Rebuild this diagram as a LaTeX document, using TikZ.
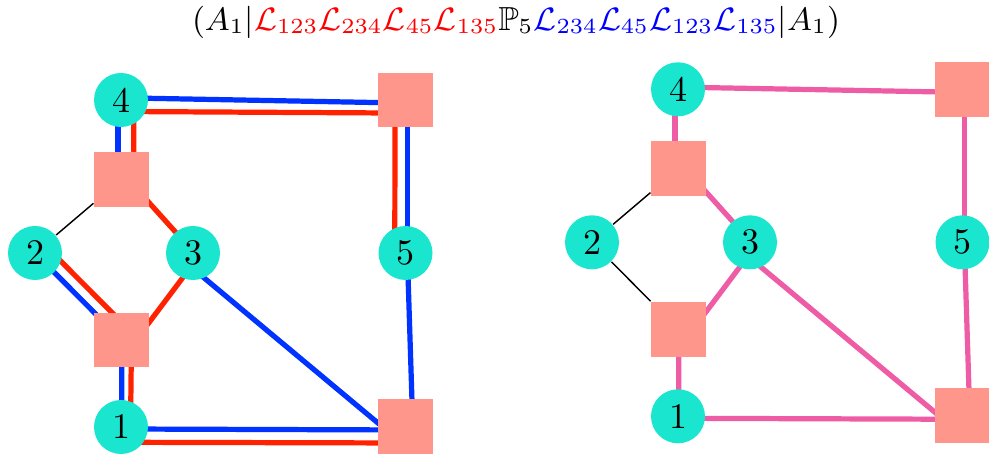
\documentclass[tikz,border=0pt]{standalone}
\usepackage{amssymb}
\usetikzlibrary{backgrounds}
\definecolor{vertteal}{RGB}{26,230,208}
\definecolor{facesalmon}{RGB}{255,150,140}
\definecolor{walkred}{RGB}{255,34,0}
\definecolor{walkblue}{RGB}{0,51,255}
\definecolor{walkpink}{RGB}{238,92,166}
\tikzset{
  vert/.style={circle,fill=vertteal,minimum size=15pt,inner sep=0pt},
  face/.style={rectangle,fill=facesalmon,minimum size=15.2pt,inner sep=0pt},
  redwalk/.style={walkred,line width=1.45pt},
  bluewalk/.style={walkblue,line width=1.45pt},
  pinkwalk/.style={walkpink,line width=1.45pt},
  plainedge/.style={black,line width=0.4pt}
}
\begin{document}
\begin{tikzpicture}[x=0.2778pt,y=-0.2778pt]
   \useasboundingbox (0,0) rectangle (989,459);
   \node[font=\fontsize{9.27pt}{11pt}\selectfont] (title) at (516,22)
     {$(A_1|{\color{red}\mathcal{L}_{123}\mathcal{L}_{234}\mathcal{L}_{45}\mathcal{L}_{135}}\mathbb{P}_5{\color{blue}\mathcal{L}_{234}\mathcal{L}_{45}\mathcal{L}_{123}\mathcal{L}_{135}}|A_1)$};
   % both panels share one layout
   \foreach \p/\dx/\dy in {l/0/0, r/557/-10.7}
   {
     \begin{scope}[shift={(\dx,\dy)}]
       \node[vert] (\p4) at (121,100) {4};
       \node[vert] (\p2) at (35,253) {2};
       \node[vert] (\p3) at (193,253) {3};
       \node[vert] (\p5) at (405.5,253) {5};
       \node[vert] (\p1) at (121,427) {1};
       \node[face] (\p a) at (121.5,179.5) {};
       \node[face] (\p b) at (121.5,340) {};
       \node[face] (\p c) at (405.5,100) {};
       \node[face] (\p d) at (405.5,426.5) {};
     \end{scope}
   }
   \begin{scope}[on background layer]
     % left panel
     \draw[plainedge] (la) -- (l2);
     \foreach \a/\b/\xa/\ya/\xb/\yb in
       { l4/la/12.6/0/12.5/0,
         l4/lc/0/11.5/0/13.1,
         la/l3/3.6/-3.5/0.7/-0.7,
         l2/lb/8.9/-8.8/8.9/-8.8,
         l3/lb/5.2/4.2/8.9/7.3,
         lb/l1/10/0/9.5/0,
         l1/ld/0/15.3/0/16.5,
         l5/lc/-10.7/0/-10.5/0
       }
       \draw[redwalk] ([shift={(\xa,\ya)}]\a.center) -- ([shift={(\xb,\yb)}]\b.center);
     \foreach \a/\b/\xa/\ya/\xb/\yb in
       { l4/la/-3/0/-3.5/0,
         l4/lc/0/-2.2/0/3.1,
         l2/lb/0/0/0/0,
         lb/l1/0.5/0/0.5/0,
         l1/ld/0/2/0/3.5,
         l3/ld/-7.6/9.3/-9.5/11.6,
         l5/ld/1.8/0/7.3/0,
         l5/lc/1.7/0/1.7/0
       }
       \draw[bluewalk] ([shift={(\xa,\ya)}]\a.center) -- ([shift={(\xb,\yb)}]\b.center);
     % right panel
     \draw[plainedge] (ra) -- (r2) -- (rb);
     \foreach \a/\b/\xa/\ya/\xb/\yb in
       { r4/ra/-3/0/-3.5/0,
         r4/rc/0/-2.2/0/3.1,
         ra/r3/3.6/-3.5/0.7/-0.7,
         r3/rb/5.2/4.2/8.9/7.3,
         rb/r1/0.5/0/0.5/0,
         r1/rd/0/2/0/3.5,
         r3/rd/-7.6/9.3/-9.5/11.6,
         r5/rd/1.8/0/7.3/0,
         r5/rc/1.7/0/1.7/0
       }
       \draw[pinkwalk] ([shift={(\xa,\ya)}]\a.center) -- ([shift={(\xb,\yb)}]\b.center);
   \end{scope}
\end{tikzpicture}
\end{document}
